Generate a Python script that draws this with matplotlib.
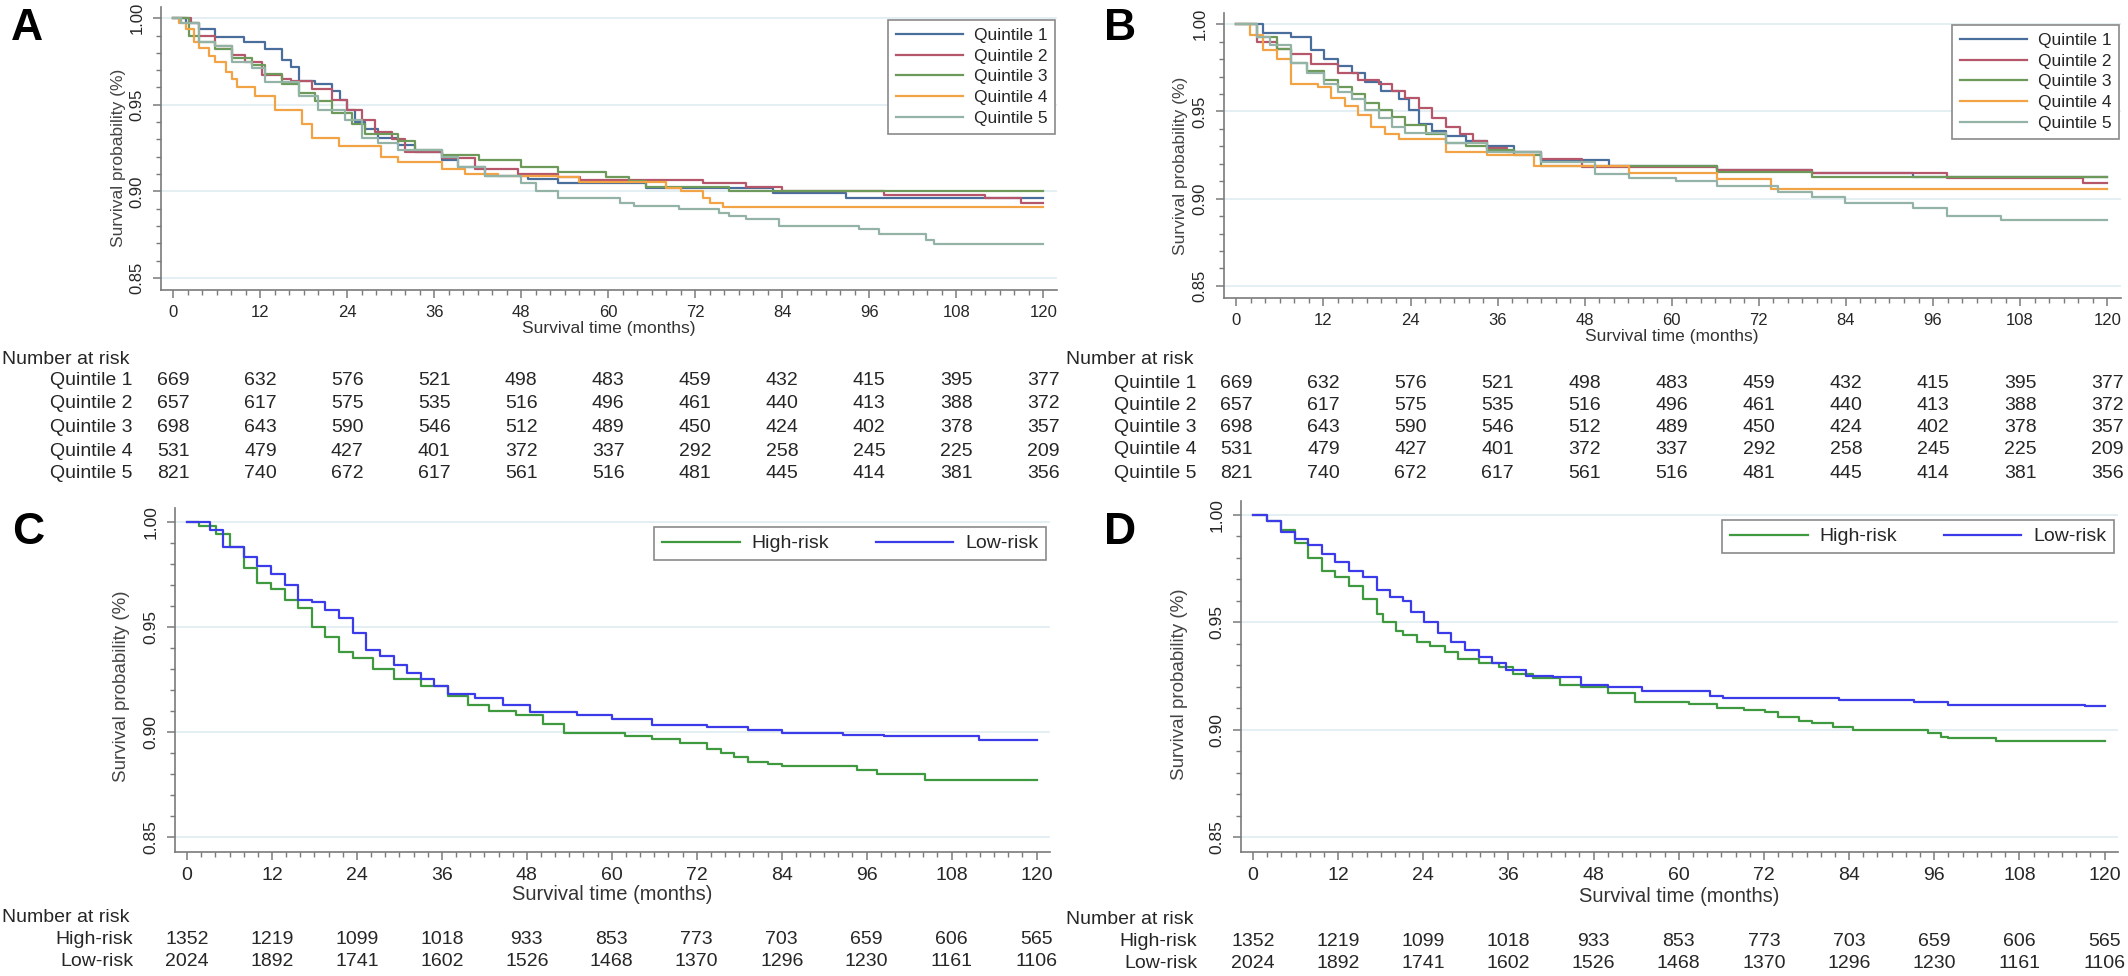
import matplotlib

matplotlib.use("Agg")

import matplotlib.pyplot as plt
from matplotlib.ticker import MultipleLocator
from matplotlib.transforms import blended_transform_factory

plt.rcParams["font.family"] = ["Liberation Sans", "DejaVu Sans"]

W, H = 2128, 976

MONTHS = [0, 12, 24, 36, 48, 60, 72, 84, 96, 108, 120]
Y_TICKS = [0.85, 0.90, 0.95, 1.00]

QUINTILE_NAMES = ["Quintile 1", "Quintile 2", "Quintile 3", "Quintile 4", "Quintile 5"]
RISK_NAMES = ["High-risk", "Low-risk"]

# number at risk (same table under A and B, and under C and D)
RISK_Q1 = [669, 632, 576, 521, 498, 483, 459, 432, 415, 395, 377]
RISK_Q2 = [657, 617, 575, 535, 516, 496, 461, 440, 413, 388, 372]
RISK_Q3 = [698, 643, 590, 546, 512, 489, 450, 424, 402, 378, 357]
RISK_Q4 = [531, 479, 427, 401, 372, 337, 292, 258, 245, 225, 209]
RISK_Q5 = [821, 740, 672, 617, 561, 516, 481, 445, 414, 381, 356]
RISK_HIGH = [1352, 1219, 1099, 1018, 933, 853, 773, 703, 659, 606, 565]
RISK_LOW = [2024, 1892, 1741, 1602, 1526, 1468, 1370, 1296, 1230, 1161, 1106]

# panel A step curves (month, survival)
A_Q1_T = [0, 1.7, 3.5, 5.8, 9.7, 12.7, 15.0, 16.3, 17.3, 19.6, 21.9, 23.0, 23.9, 25.1, 26.4,
          28.3, 31.0, 33.3, 37.0, 39.3, 43.0, 48.9, 53.1, 65.2, 82.7, 92.8]
A_Q1_S = [1.0, 0.997, 0.994, 0.989, 0.986, 0.982, 0.976, 0.972, 0.964, 0.962, 0.958, 0.953, 0.947,
          0.940, 0.936, 0.931, 0.927, 0.923, 0.918, 0.914, 0.909, 0.907, 0.905, 0.902, 0.899, 0.896]
A_Q2_T = [0, 2.5, 3.5, 5.8, 8.1, 9.9, 12.2, 15.0, 16.3, 19.1, 21.9, 23.9, 26.0, 27.8, 30.1, 32.0,
          37.0, 41.6, 47.6, 53.1, 56.1, 73.0, 79.0, 84.0, 98.0, 112.0, 117.0]
A_Q2_S = [1.0, 0.997, 0.990, 0.984, 0.979, 0.975, 0.967, 0.965, 0.964, 0.959, 0.953, 0.947, 0.941,
          0.934, 0.930, 0.923, 0.919, 0.913, 0.910, 0.908, 0.9065, 0.905, 0.9025, 0.900, 0.898,
          0.896, 0.893]
A_Q3_T = [0, 2.1, 3.5, 5.8, 8.1, 10.8, 12.7, 15.0, 17.3, 19.6, 21.9, 24.6, 26.4, 31.0, 33.3, 37.0,
          42.1, 48.0, 53.1, 59.7, 62.9, 65.2, 76.7]
A_Q3_S = [1.0, 0.990, 0.986, 0.982, 0.977, 0.973, 0.968, 0.962, 0.957, 0.952, 0.945, 0.939, 0.933,
          0.929, 0.924, 0.921, 0.918, 0.914, 0.911, 0.908, 0.906, 0.9025, 0.900]
A_Q4_T = [0, 0.8, 1.8, 2.8, 3.5, 4.9, 5.8, 7.2, 8.1, 8.8, 11.3, 14.0, 17.7, 19.1, 22.8, 28.7, 31.0,
          37.0, 40.2, 44.8, 53.0, 56.0, 68.0, 70.0, 73.0, 74.0, 75.8]
A_Q4_S = [1.0, 0.997, 0.994, 0.986, 0.983, 0.978, 0.975, 0.969, 0.965, 0.960, 0.955, 0.947, 0.939,
          0.931, 0.926, 0.920, 0.917, 0.913, 0.910, 0.909, 0.908, 0.9056, 0.902, 0.900, 0.896,
          0.893, 0.891]
A_Q5_T = [0, 1, 3.5, 5.8, 8.1, 10.9, 12.7, 17.3, 20, 23.7, 26, 28.3, 31, 37, 39.3, 43, 48, 50, 53,
          61.6, 63.6, 69.8, 75.3, 76.7, 79.0, 83.6, 94.6, 97.4, 103.8, 104.9]
A_Q5_S = [1.0, 0.997, 0.986, 0.984, 0.975, 0.971, 0.963, 0.955, 0.947, 0.941, 0.931, 0.928, 0.924,
          0.920, 0.914, 0.909, 0.905, 0.900, 0.896, 0.893, 0.8915, 0.8896, 0.8877, 0.886, 0.884,
          0.880, 0.8785, 0.8753, 0.872, 0.8697]

# panel B
B_Q1_T = [0, 3.7, 7.5, 10.3, 12.1, 14.0, 15.9, 17.7, 20.0, 22.4, 23.8, 25.2, 27.0, 28.9, 31.7,
          34.5, 38.2, 42.0, 51.3, 66.2, 79.3, 93.2]
B_Q1_S = [1.0, 0.995, 0.993, 0.985, 0.980, 0.976, 0.972, 0.967, 0.962, 0.957, 0.951, 0.943, 0.939,
          0.936, 0.933, 0.930, 0.927, 0.922, 0.919, 0.9165, 0.9146, 0.9127]
B_Q2_T = [0, 2.8, 5.6, 7.5, 10.3, 14.0, 16.8, 19.6, 21.4, 23.3, 25.2, 27.0, 28.9, 30.8, 32.6, 34.5,
          37.3, 42.0, 47.6, 66.2, 79.3, 97.9, 116.6]
B_Q2_S = [1.0, 0.990, 0.986, 0.983, 0.977, 0.972, 0.968, 0.966, 0.962, 0.958, 0.952, 0.946, 0.941,
          0.937, 0.933, 0.929, 0.927, 0.923, 0.918, 0.9165, 0.9146, 0.9117, 0.909]
B_Q3_T = [0, 2.8, 5.6, 7.5, 9.8, 12.1, 14.0, 15.9, 17.7, 19.6, 21.4, 23.3, 26.1, 28.9, 31.7, 34.5,
          38.2, 42.0, 66.2, 79.3]
B_Q3_S = [1.0, 0.993, 0.986, 0.978, 0.973, 0.968, 0.964, 0.960, 0.955, 0.951, 0.947, 0.942, 0.937,
          0.932, 0.930, 0.928, 0.925, 0.919, 0.9155, 0.9127]
B_Q4_T = [0, 1.9, 3.7, 5.6, 7.5, 11.2, 13.1, 15.0, 16.8, 18.6, 20.5, 22.4, 28.9, 34.5, 41.0, 54.1,
          66.2, 73.7]
B_Q4_S = [1.0, 0.994, 0.985, 0.980, 0.966, 0.964, 0.958, 0.953, 0.948, 0.941, 0.937, 0.934, 0.927,
          0.925, 0.919, 0.9146, 0.911, 0.9054]
B_Q5_T = [0, 2.8, 4.7, 7.5, 9.8, 12.1, 14.0, 15.9, 17.7, 19.6, 21.4, 23.3, 28.9, 34.5, 42.0, 49.4,
          54.1, 60.6, 66.2, 74.6, 79.3, 83.9, 93.2, 97.9, 105.4]
B_Q5_S = [1.0, 0.993, 0.988, 0.978, 0.972, 0.966, 0.961, 0.957, 0.951, 0.946, 0.941, 0.9375, 0.932,
          0.927, 0.921, 0.914, 0.9117, 0.910, 0.907, 0.904, 0.901, 0.8974, 0.8945, 0.890, 0.8878]

# panel C
C_HIGH_T = [0, 1.7, 4.1, 6.1, 8.0, 9.9, 11.8, 13.8, 15.7, 17.6, 19.5, 21.5, 23.4, 26.3, 29.2, 33.0,
            36.9, 39.7, 42.6, 46.5, 50.3, 53.2, 61.9, 65.7, 69.6, 73.4, 75.4, 77.3, 79.2, 82.1,
            84.0, 94.6, 97.5, 104.2]
C_HIGH_S = [1.0, 0.998, 0.994, 0.988, 0.978, 0.971, 0.968, 0.963, 0.959, 0.950, 0.945, 0.938, 0.935,
            0.930, 0.925, 0.922, 0.917, 0.913, 0.910, 0.908, 0.904, 0.8995, 0.898, 0.8965, 0.895,
            0.892, 0.890, 0.888, 0.886, 0.8847, 0.884, 0.882, 0.880, 0.877]
C_LOW_T = [0, 3.2, 5.1, 8.0, 9.9, 11.8, 13.8, 15.7, 17.6, 19.5, 21.5, 23.4, 25.3, 27.2, 29.2, 31.1,
           33.0, 34.9, 36.9, 40.7, 44.6, 48.4, 55.1, 60.0, 65.7, 73.4, 79.2, 84.0, 92.7, 98.5, 111.9]
C_LOW_S = [1.0, 0.996, 0.988, 0.983, 0.979, 0.975, 0.970, 0.963, 0.962, 0.958, 0.954, 0.947, 0.939,
           0.936, 0.932, 0.928, 0.925, 0.922, 0.918, 0.916, 0.913, 0.9097, 0.908, 0.906, 0.9034,
           0.9026, 0.901, 0.8995, 0.8988, 0.8983, 0.8964]

# panel D
D_HIGH_T = [0, 2.0, 3.9, 5.9, 7.8, 9.7, 11.6, 13.5, 15.5, 17.4, 18.3, 20.2, 21.2, 23.1, 25.0, 27.0,
            28.9, 31.8, 34.6, 36.6, 39.4, 43.3, 46.2, 50.0, 53.8, 61.5, 65.4, 69.2, 72.1, 74.0,
            76.9, 78.8, 81.7, 84.5, 95.1, 97.0, 98.0, 104.7]
D_HIGH_S = [1.0, 0.997, 0.993, 0.987, 0.980, 0.974, 0.971, 0.967, 0.961, 0.954, 0.950, 0.946, 0.944,
            0.941, 0.939, 0.936, 0.933, 0.931, 0.929, 0.926, 0.924, 0.921, 0.920, 0.917, 0.913,
            0.912, 0.910, 0.909, 0.908, 0.906, 0.904, 0.903, 0.901, 0.900, 0.8985, 0.8965, 0.896,
            0.8945]
D_LOW_T = [0, 2.0, 3.9, 5.9, 7.8, 9.7, 11.6, 13.5, 15.5, 17.4, 19.3, 21.2, 22.2, 24.1, 26.0, 27.9,
           29.8, 31.8, 33.7, 35.6, 38.5, 42.3, 46.2, 50.0, 54.8, 64.4, 66.3, 82.6, 93.2, 98.0, 117.2]
D_LOW_S = [1.0, 0.997, 0.992, 0.989, 0.986, 0.982, 0.978, 0.974, 0.971, 0.965, 0.962, 0.960, 0.955,
           0.950, 0.945, 0.941, 0.937, 0.934, 0.931, 0.928, 0.925, 0.9245, 0.921, 0.920, 0.918,
           0.9155, 0.9147, 0.914, 0.9128, 0.9117, 0.911]

QUINTILE_COLORS = ["#4a6e9c", "#b5566a", "#6d9a5a", "#f2a345", "#93b3a6"]
RISK_COLORS = ["#3f9a3f", "#3b3bea"]
TEXT = "#262626"
SPINE = "#7a7a7a"
GRID = "#e2eef2"


def fx(x_px):
    return x_px / W


def fy(y_px):
    return 1 - y_px / H


def px_axes(fig, left, top, right, bottom):
    return fig.add_axes([left / W, 1 - bottom / H, (right - left) / W, (bottom - top) / H])


def style_axes(ax, xtick_size, ytick_size):
    ax.set_xlim(-1.7, 121.9)
    ax.set_ylim(0.843, 1.0065)
    for side in ("top", "right"):
        ax.spines[side].set_visible(False)
    for side in ("left", "bottom"):
        ax.spines[side].set_color(SPINE)
        ax.spines[side].set_linewidth(1.2)
    ax.set_xticks(MONTHS)
    ax.xaxis.set_minor_locator(MultipleLocator(2))
    ax.set_yticks(Y_TICKS)
    ax.set_yticklabels([f"{v:.2f}" for v in Y_TICKS], rotation=90, va="center")
    ax.yaxis.set_minor_locator(MultipleLocator(0.01))
    ax.tick_params(which="major", length=6, width=1.1, color=SPINE, labelcolor=TEXT)
    ax.tick_params(which="minor", length=3.5, width=1.0, color=SPINE)
    ax.tick_params(axis="x", labelsize=xtick_size, pad=5)
    ax.tick_params(axis="y", labelsize=ytick_size, pad=6)
    for v in Y_TICKS:
        ax.axhline(v, color=GRID, lw=1.3, zorder=0)


def draw_steps(ax, times, survs, names, colors):
    for t, s, name, color in zip(times, survs, names, colors):
        ax.step(t + [120], s + [s[-1]], where="post", color=color, lw=1.6, label=name)


def add_texts(fig, ax, letter, letter_xy, ylabel_xy, xlabel_y, label_size, ysize):
    fig.text(fx(letter_xy[0]), fy(letter_xy[1]), letter, fontsize=32, fontweight="bold",
             ha="center", va="center", color="black")
    fig.text(fx(ylabel_xy[0]), fy(ylabel_xy[1]), "Survival probability (%)", rotation=90,
             fontsize=ysize, ha="center", va="center", color="#444444")
    trans = blended_transform_factory(ax.transData, fig.transFigure)
    ax.text(60, fy(xlabel_y), "Survival time (months)", transform=trans, fontsize=label_size,
            ha="center", va="center", color="#333333")


def add_risk_table(fig, ax, x0, header_y, row_ys, names, rows):
    trans = blended_transform_factory(ax.transData, fig.transFigure)
    fig.text(fx(x0 + 2), fy(header_y), "Number at risk", fontsize=14, ha="left", va="center",
             color=TEXT)
    for name, row, y in zip(names, rows, row_ys):
        fig.text(fx(x0 + 133), fy(y), name, fontsize=14, ha="right", va="center", color=TEXT)
        for month, n in zip(MONTHS, row):
            ax.text(month, fy(y), str(n), transform=trans, fontsize=14, ha="center",
                    va="center", color=TEXT, clip_on=False)


def quintile_legend(fig, ax, right, top):
    leg = ax.legend(loc="upper right", bbox_to_anchor=(fx(right), fy(top)),
                    bbox_transform=fig.transFigure, borderaxespad=0, fancybox=False,
                    edgecolor="#8a8a8a", fontsize=12.5, handlelength=3.85, handletextpad=0.6,
                    labelspacing=0.32, borderpad=0.45, framealpha=1)
    leg.get_frame().set_linewidth(1.2)
    for txt in leg.get_texts():
        txt.set_color(TEXT)


def risk_legend(fig, ax, right, top):
    leg = ax.legend(loc="upper right", bbox_to_anchor=(fx(right), fy(top)),
                    bbox_transform=fig.transFigure, borderaxespad=0, fancybox=False,
                    edgecolor="#8a8a8a", fontsize=14, ncol=2, handlelength=4.0,
                    handletextpad=0.6, columnspacing=2.4, borderpad=0.4, framealpha=1)
    leg.get_frame().set_linewidth(1.2)
    for txt in leg.get_texts():
        txt.set_color(TEXT)


def main() -> None:
    fig = plt.figure(figsize=(W / 100, H / 100), dpi=100, facecolor="white")

    quintile_rows = [RISK_Q1, RISK_Q2, RISK_Q3, RISK_Q4, RISK_Q5]
    risk_rows = [RISK_HIGH, RISK_LOW]

    # A
    ax_a = px_axes(fig, 161, 7, 1057, 290)
    style_axes(ax_a, 12, 12)
    draw_steps(ax_a, [A_Q1_T, A_Q2_T, A_Q3_T, A_Q4_T, A_Q5_T],
               [A_Q1_S, A_Q2_S, A_Q3_S, A_Q4_S, A_Q5_S], QUINTILE_NAMES, QUINTILE_COLORS)
    quintile_legend(fig, ax_a, 1055, 20)
    add_texts(fig, ax_a, "A", (27, 29), (119, 158), 328, 12.5, 12.5)
    add_risk_table(fig, ax_a, 0, 359, [381, 404, 428, 451, 473], QUINTILE_NAMES, quintile_rows)

    # B
    ax_b = px_axes(fig, 1224, 13, 2121, 298)
    style_axes(ax_b, 12, 12)
    draw_steps(ax_b, [B_Q1_T, B_Q2_T, B_Q3_T, B_Q4_T, B_Q5_T],
               [B_Q1_S, B_Q2_S, B_Q3_S, B_Q4_S, B_Q5_S], QUINTILE_NAMES, QUINTILE_COLORS)
    quintile_legend(fig, ax_b, 2119, 25)
    add_texts(fig, ax_b, "B", (1120, 29), (1181, 166), 337, 12.5, 12.5)
    add_risk_table(fig, ax_b, 1064, 359, [383, 405, 428, 450, 473], QUINTILE_NAMES, quintile_rows)

    # C
    ax_c = px_axes(fig, 175, 508, 1050, 852)
    style_axes(ax_c, 14, 12.5)
    draw_steps(ax_c, [C_HIGH_T, C_LOW_T], [C_HIGH_S, C_LOW_S], RISK_NAMES, RISK_COLORS)
    risk_legend(fig, ax_c, 1046, 527)
    add_texts(fig, ax_c, "C", (28, 533), (122, 686), 894, 14.5, 13.5)
    add_risk_table(fig, ax_c, 0, 917, [939, 961], RISK_NAMES, risk_rows)

    # D
    ax_d = px_axes(fig, 1241, 501, 2118, 852)
    style_axes(ax_d, 14, 12.5)
    draw_steps(ax_d, [D_HIGH_T, D_LOW_T], [D_HIGH_S, D_LOW_S], RISK_NAMES, RISK_COLORS)
    risk_legend(fig, ax_d, 2114, 520)
    add_texts(fig, ax_d, "D", (1120, 533), (1179, 684), 896, 14.5, 13.5)
    add_risk_table(fig, ax_d, 1064, 919, [941, 964], RISK_NAMES, risk_rows)

    fig.savefig("out.png", dpi=100, facecolor="white")
    plt.close(fig)


if __name__ == "__main__":
    main()
